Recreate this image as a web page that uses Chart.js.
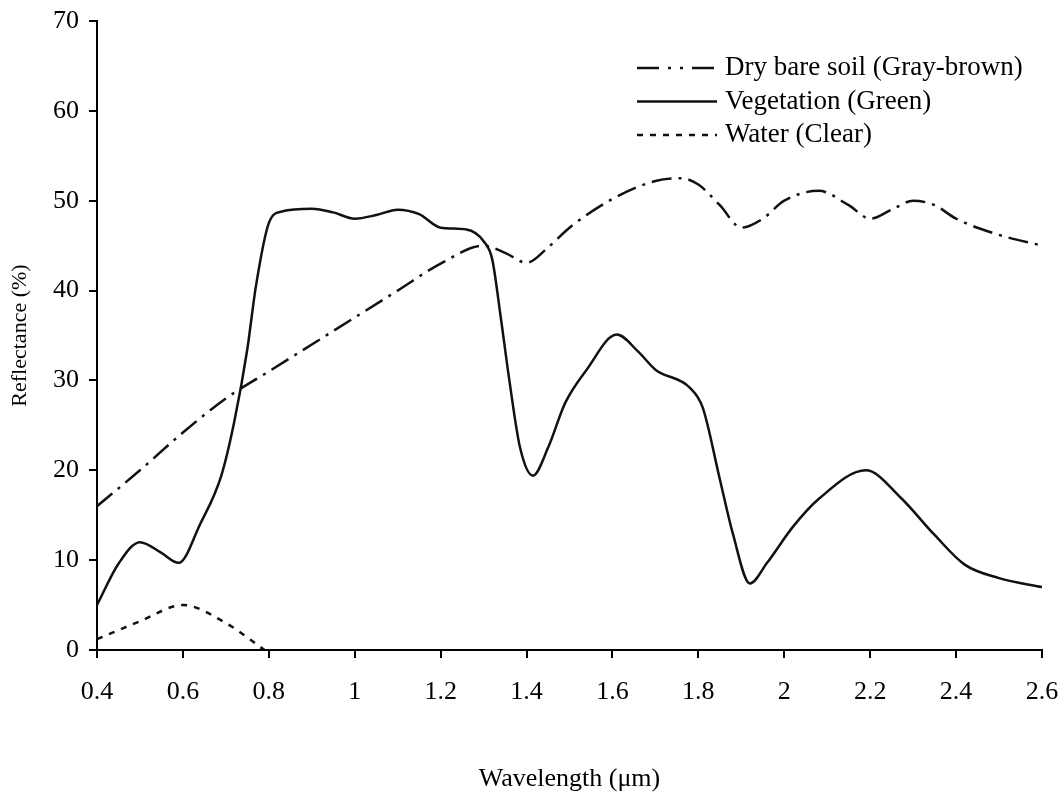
<!DOCTYPE html>
<html>
<head>
<meta charset="utf-8">
<title>Spectral reflectance curves</title>
<script src="https://cdn.jsdelivr.net/npm/chart.js@4.4.0/dist/chart.umd.min.js"></script>
<style>
  html, body { margin: 0; padding: 0; background: #fff; }
  canvas { display: block; }
</style>
</head>
<body>
<canvas id="chart" width="1064" height="795"></canvas>
<script>
// values (wavelength in um, reflectance in %)
const soilWave = [0.4, 0.5, 0.6, 0.7, 0.8, 0.9, 1.0, 1.1, 1.2, 1.3, 1.35, 1.4, 1.45, 1.5, 1.6, 1.7, 1.76, 1.8, 1.85, 1.9, 1.95, 2.0, 2.08, 2.15, 2.2, 2.25, 2.3, 2.35, 2.4, 2.5, 2.6];
const soilRefl = [16, 20, 24.2, 28, 31, 34, 37, 40, 43, 45, 44.2, 43.1, 44.8, 47, 50.2, 52.2, 52.5, 51.8, 49.5, 47, 48, 50, 51.1, 49.5, 48, 49, 50, 49.5, 48, 46.2, 45];

const vegWave = [0.4, 0.45, 0.5, 0.55, 0.59, 0.64, 0.69, 0.72, 0.75, 0.77, 0.8, 0.83, 0.9, 0.95, 1.0, 1.05, 1.1, 1.15, 1.2, 1.26, 1.3, 1.32, 1.34, 1.36, 1.385, 1.415, 1.45, 1.49, 1.54, 1.61, 1.66, 1.7, 1.78, 1.81, 1.85, 1.88, 1.92, 1.96, 2.02, 2.08, 2.19, 2.27, 2.35, 2.42, 2.5, 2.6];
const vegRefl = [5, 9.6, 12, 10.8, 9.7, 14, 19.5, 25.5, 33.5, 40.5, 47.5, 48.8, 49.1, 48.7, 48, 48.4, 49, 48.5, 47, 46.8, 45.5, 43.5, 37, 30, 22.5, 19.4, 22.5, 27.5, 31.2, 35.1, 33.2, 31.2, 29.2, 27, 19, 13, 7.4, 9.7, 13.7, 16.8, 20, 17, 12.8, 9.5, 8, 7];

const waterWave = [0.4, 0.5, 0.6, 0.7, 0.79];
const waterRefl = [1.2, 3.2, 5, 3, 0];

const seriesNames = ['Dry bare soil (Gray-brown)', 'Vegetation (Green)', 'Water (Clear)'];

const toPoints = (xs, ys) => xs.map((x, i) => ({ x: x, y: ys[i] }));
const serif = '"Liberation Serif", "Times New Roman", serif';

// legend is drawn inside the plot, top right, like the figure
const legendLines = {
  id: 'legendLines',
  afterDraw(chart) {
    const ctx = chart.ctx;
    const area = chart.chartArea;
    const x0 = area.right - 405;
    ctx.save();
    ctx.font = '27px ' + serif;
    ctx.textBaseline = 'middle';
    ctx.textAlign = 'left';
    ctx.fillStyle = '#000';
    chart.data.datasets.forEach((ds, i) => {
      const y = area.top + 47 + i * 33.5;
      ctx.beginPath();
      ctx.setLineDash(ds.legendDash || ds.borderDash || []);
      ctx.lineWidth = ds.borderWidth;
      ctx.strokeStyle = ds.borderColor;
      ctx.moveTo(x0, y);
      ctx.lineTo(x0 + 80, y);
      ctx.stroke();
      ctx.setLineDash([]);
      ctx.fillText(ds.label, x0 + 88, y);
    });
    ctx.restore();
  }
};

new Chart(document.getElementById('chart'), {
  type: 'line',
  data: {
    datasets: [
      {
        label: seriesNames[0],
        data: toPoints(soilWave, soilRefl),
        borderColor: '#111',
        borderWidth: 2.5,
        borderDash: [20, 7, 3, 7],
        legendDash: [22, 9, 3, 9, 3, 9],
        pointRadius: 0,
        cubicInterpolationMode: 'monotone',
        fill: false
      },
      {
        label: seriesNames[1],
        data: toPoints(vegWave, vegRefl),
        borderColor: '#111',
        borderWidth: 2.5,
        borderDash: [],
        pointRadius: 0,
        cubicInterpolationMode: 'monotone',
        fill: false
      },
      {
        label: seriesNames[2],
        data: toPoints(waterWave, waterRefl),
        borderColor: '#111',
        borderWidth: 2.5,
        borderDash: [6, 7],
        pointRadius: 0,
        cubicInterpolationMode: 'monotone',
        fill: false
      }
    ]
  },
  options: {
    responsive: false,
    animation: false,
    layout: { padding: { top: 21, right: 22, left: 0, bottom: 0 } },
    plugins: {
      legend: { display: false },
      tooltip: { enabled: false }
    },
    scales: {
      x: {
        type: 'linear',
        min: 0.4,
        max: 2.6,
        // fixed size, and no extra room for the end labels
        afterFit: (s) => { s.height = 145; s.paddingLeft = 0; s.paddingRight = 0; },
        ticks: {
          stepSize: 0.2,
          color: '#000',
          padding: 19,
          maxRotation: 0,
          font: { family: serif, size: 26 },
          callback: (v) => String(+v.toFixed(1))
        },
        grid: { drawOnChartArea: false, drawTicks: true, tickLength: 8, color: '#000', lineWidth: 2 },
        border: { display: true, color: '#000', width: 2 },
        title: {
          display: true,
          text: 'Wavelength (\u03bcm)',
          color: '#000',
          font: { family: serif, size: 26 },
          padding: { top: 0, bottom: 0 }
        }
      },
      y: {
        min: 0,
        max: 70,
        afterFit: (s) => { s.width = 97; s.paddingTop = 0; s.paddingBottom = 0; },
        ticks: {
          stepSize: 10,
          color: '#000',
          padding: 10,
          font: { family: serif, size: 26 }
        },
        grid: { drawOnChartArea: false, drawTicks: true, tickLength: 8, color: '#000', lineWidth: 2 },
        border: { display: true, color: '#000', width: 2 },
        title: {
          display: true,
          text: 'Reflectance (%)',
          color: '#000',
          font: { family: serif, size: 22 },
          padding: { top: 7, bottom: 0 }
        }
      }
    }
  },
  plugins: [legendLines]
});
</script>
</body>
</html>
